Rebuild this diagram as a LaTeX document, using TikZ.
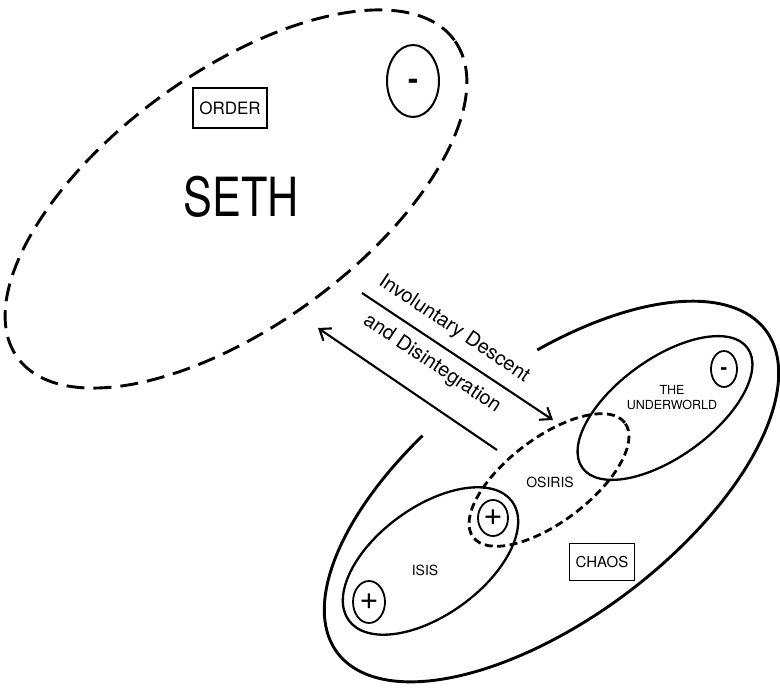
\documentclass[tikz,border=0pt]{standalone}
\usepackage{fontspec}
\setmainfont{TeX Gyre Heros}
\usetikzlibrary{shapes.geometric,arrows.meta}
\begin{document}
\begin{tikzpicture}[x=1pt,y=1pt,
  el/.style={draw, ellipse, inner sep=0pt, line width=2.3pt},
  sign/.style={inner sep=0pt, font=\fontsize{33}{33}\selectfont},
  lbl/.style={inner sep=0pt, font=\fontsize{14}{16}\selectfont},
  boxed/.style={draw, line width=1.8pt, inner sep=0pt, font=\fontsize{15}{17}\selectfont},
  arr/.style={line width=2.1pt, -{Straight Barb[length=10pt,width=15pt]}},
  along/.style={inner sep=0pt, font=\fontsize{20}{22}\selectfont, rotate=-33.8}
]
\useasboundingbox (0,0) rectangle (780,689);
% SETH region
\node[el, line width=2.9pt, dash pattern=on 18pt off 9pt, minimum width=540pt, minimum height=254pt, rotate=36] (seth) at (236,490) {};
\node[el, line width=2pt, minimum width=52pt, minimum height=72pt] (sethminus) at (413,608) {};
\node[sign, font=\bfseries\fontsize{30}{30}\selectfont, anchor=base] (sethminustxt) at (413,599) {-};
\node[boxed, minimum width=74pt, minimum height=40pt, font=\fontsize{17}{19}\selectfont] (order) at (230,581) {ORDER};
\node[inner sep=0pt, font=\fontsize{54}{60}\selectfont] (sethtxt) at (241,492) {\scalebox{0.8}[1]{SETH}};
% arrows
\coordinate (a1s) at (362,396);
\coordinate (a1e) at (553,269);
\coordinate (a2s) at (497,239);
\coordinate (a2e) at (318,361);
\draw[arr] (a1s) -- (a1e);
\draw[arr] (a2s) -- (a2e);
\node[along] (desc1) at (454,360) {Involuntary Descent};
\node[along] (desc2) at (432,325) {and Disintegration};
% CHAOS region (big ellipse with a gap)
\begin{scope}[shift={(551.5,197.5)}, rotate=37]
  \draw[line width=2.9pt] (105:268 and 126.5) coordinate (chs) arc[start angle=105, end angle=434, x radius=268pt, y radius=126.5pt];
\end{scope}
\node[el, minimum width=204pt, minimum height=98pt, rotate=36] (under) at (665,281) {};
\node[el, minimum width=202pt, minimum height=108pt, rotate=36] (isis) at (430.5,128) {};
\node[el, line width=2.8pt, dash pattern=on 8pt off 4.5pt, minimum width=190pt, minimum height=84pt, rotate=37] (osiris) at (549,209) {};
\node[el, line width=1.8pt, minimum width=26pt, minimum height=36pt] (underminus) at (724,320) {};
\node[sign, font=\bfseries\fontsize{20}{20}\selectfont, anchor=base] (underminustxt) at (724,314) {-};
\node[el, line width=1.8pt, minimum width=30pt, minimum height=36pt] (plus1) at (493,171) {};
\node[sign] (plus1txt) at (493,171) {+};
\node[el, line width=1.8pt, minimum width=32pt, minimum height=42pt] (plus2) at (369,87) {};
\node[sign] (plus2txt) at (369,87) {+};
\node[lbl, font=\fontsize{12.5}{15}\selectfont, align=center] (undertxt) at (672,291) {THE\\UNDERWORLD};
\node[lbl] (osiristxt) at (550,207) {OSIRIS};
\node[lbl] (isistxt) at (425,119) {ISIS};
\node[boxed, minimum width=65pt, minimum height=37pt] (chaos) at (602,127) {CHAOS};
\end{tikzpicture}
\end{document}
